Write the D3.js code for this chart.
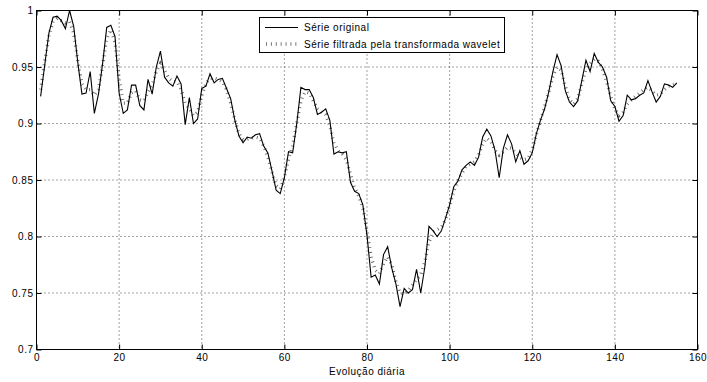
<!DOCTYPE html>
<html><head><meta charset="utf-8">
<script src="https://cdn.jsdelivr.net/npm/d3@7"></script>
<style>body{margin:0;background:#fff}svg{display:block}text{font-family:"Liberation Sans",Arial,sans-serif;letter-spacing:0.5px}</style>
</head><body><svg id="c" width="707" height="382"></svg>
<script>
const original = [0.924,0.952,0.980,0.994,0.995,0.991,0.984,1.000,0.986,0.954,0.926,0.927,0.946,0.909,0.926,0.953,0.985,0.987,0.977,0.927,0.909,0.912,0.934,0.934,0.916,0.912,0.939,0.926,0.950,0.964,0.941,0.936,0.933,0.942,0.935,0.899,0.923,0.900,0.904,0.931,0.933,0.944,0.936,0.939,0.940,0.931,0.922,0.903,0.889,0.883,0.888,0.887,0.890,0.891,0.880,0.874,0.858,0.841,0.838,0.852,0.875,0.874,0.900,0.932,0.930,0.930,0.923,0.908,0.910,0.913,0.903,0.873,0.875,0.874,0.875,0.848,0.840,0.838,0.828,0.801,0.764,0.766,0.758,0.784,0.791,0.772,0.758,0.738,0.754,0.750,0.753,0.771,0.750,0.773,0.809,0.805,0.800,0.805,0.816,0.828,0.844,0.849,0.859,0.863,0.866,0.863,0.870,0.888,0.895,0.889,0.876,0.852,0.878,0.890,0.882,0.866,0.876,0.864,0.867,0.874,0.891,0.903,0.913,0.928,0.946,0.961,0.951,0.929,0.919,0.915,0.920,0.938,0.956,0.946,0.962,0.954,0.950,0.941,0.920,0.915,0.902,0.907,0.925,0.921,0.922,0.925,0.927,0.938,0.928,0.919,0.924,0.935,0.934,0.932,0.936];
const filtered = [0.930,0.955,0.978,0.990,0.993,0.991,0.989,0.990,0.980,0.955,0.935,0.930,0.930,0.925,0.930,0.952,0.975,0.983,0.972,0.940,0.918,0.918,0.927,0.929,0.921,0.920,0.928,0.934,0.946,0.953,0.947,0.940,0.937,0.937,0.930,0.918,0.913,0.907,0.910,0.925,0.935,0.940,0.940,0.939,0.937,0.930,0.918,0.903,0.891,0.886,0.886,0.887,0.888,0.887,0.880,0.870,0.857,0.845,0.842,0.852,0.869,0.880,0.900,0.920,0.928,0.927,0.920,0.913,0.910,0.908,0.898,0.883,0.876,0.873,0.868,0.855,0.843,0.836,0.825,0.805,0.782,0.770,0.767,0.776,0.782,0.775,0.760,0.750,0.749,0.752,0.757,0.762,0.766,0.778,0.795,0.804,0.806,0.808,0.815,0.828,0.840,0.849,0.856,0.862,0.864,0.866,0.872,0.882,0.887,0.884,0.876,0.872,0.875,0.879,0.878,0.874,0.870,0.868,0.869,0.877,0.890,0.903,0.915,0.928,0.942,0.950,0.947,0.933,0.921,0.917,0.922,0.935,0.948,0.953,0.957,0.955,0.948,0.937,0.924,0.913,0.907,0.910,0.917,0.921,0.924,0.927,0.930,0.932,0.929,0.925,0.926,0.930,0.933,0.934,0.936];
const xTicks = [0,20,40,60,80,100,120,140,160];
const yTicks = [0.7,0.75,0.8,0.85,0.9,0.95,1];
const yTickLabels = ["0.7","0.75","0.8","0.85","0.9","0.95","1"];
const seriesNames = ["Série original","Série filtrada pela transformada wavelet"];
const xLabel = "Evolução diária";

const svg = d3.select("#c");
const L=36.5, R=697.5, T=10.5, B=349.5;
const x = d3.scaleLinear().domain([0,160]).range([L,R]);
const y = d3.scaleLinear().domain([0.7,1]).range([B,T]);

// grid
const g = svg.append("g");
g.selectAll(".gx").data(xTicks.slice(1,-1)).enter().append("line")
 .attr("x1",d=>x(d)).attr("x2",d=>x(d)).attr("y1",T).attr("y2",B)
 .attr("stroke","#444").attr("stroke-width",1).attr("stroke-dasharray","1,3");
g.selectAll(".gy").data(yTicks.slice(1,-1)).enter().append("line")
 .attr("y1",d=>y(d)).attr("y2",d=>y(d)).attr("x1",L).attr("x2",R)
 .attr("stroke","#444").attr("stroke-width",1).attr("stroke-dasharray","1,3");

// axes
const ax = (gen, tr) => svg.append("g").attr("transform",tr).call(gen)
  .call(s=>s.select(".domain").remove())
  .call(s=>s.selectAll("line").attr("stroke","#000"))
  .call(s=>s.selectAll("text").attr("font-size","10px").attr("fill","#000").attr("font-family","'Liberation Sans',Arial,sans-serif"));
ax(d3.axisBottom(x).tickValues(xTicks).tickSizeInner(-5).tickSizeOuter(0).tickPadding(4).tickFormat(d3.format("d")), `translate(0,${B})`);
ax(d3.axisTop(x).tickValues(xTicks).tickSizeInner(-5).tickSizeOuter(0).tickFormat(""), `translate(0,${T})`);
ax(d3.axisLeft(y).tickValues(yTicks).tickSizeInner(-5).tickSizeOuter(0).tickPadding(3).tickFormat((d,i)=>yTickLabels[i]), `translate(${L},0)`);
ax(d3.axisRight(y).tickValues(yTicks).tickSizeInner(-5).tickSizeOuter(0).tickFormat(""), `translate(${R},0)`);

svg.append("rect").attr("x",L).attr("y",T).attr("width",R-L).attr("height",B-T)
 .attr("fill","none").attr("stroke","#000").attr("stroke-width",1);

// lines
const line = d3.line().x((d,i)=>x(i+1)).y(d=>y(d));
svg.append("path").datum(filtered).attr("d",line).attr("fill","none")
 .attr("stroke","#666").attr("stroke-width",3.3).attr("stroke-dasharray","0.9,4");
svg.append("path").datum(original).attr("d",line).attr("fill","none")
 .attr("stroke","#000").attr("stroke-width",1.1);

// x label
svg.append("text").attr("x",(L+R)/2).attr("y",375).attr("text-anchor","middle")
 .attr("font-size","10px").text(xLabel);

// legend
const lg = svg.append("g");
lg.append("rect").attr("x",259.5).attr("y",17.5).attr("width",245).attr("height",35)
 .attr("fill","#fff").attr("stroke","#000").attr("stroke-width",1);
lg.append("line").attr("x1",265).attr("x2",298).attr("y1",27.5).attr("y2",27.5).attr("stroke","#000");
lg.append("line").attr("x1",266).attr("x2",298).attr("y1",44).attr("y2",44).attr("stroke","#666")
 .attr("stroke-width",3.3).attr("stroke-dasharray","0.9,4");
lg.selectAll("text").data(seriesNames).enter().append("text")
 .attr("x",304).attr("y",(d,i)=>31+i*16.5).attr("font-size","10px").text(d=>d);
</script></body></html>
